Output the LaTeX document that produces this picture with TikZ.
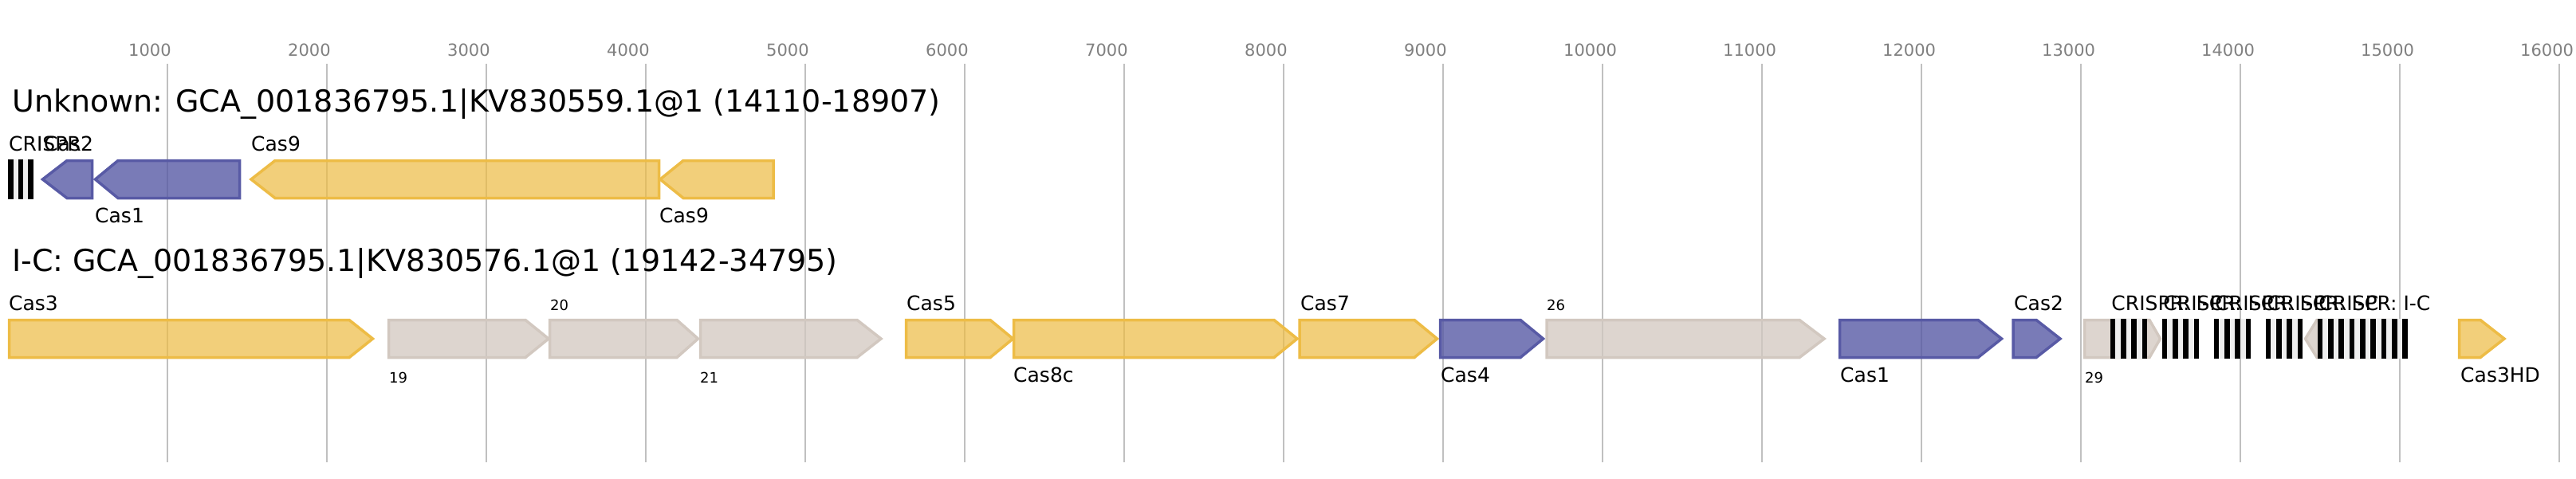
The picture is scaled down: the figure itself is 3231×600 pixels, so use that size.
\documentclass[tikz,border=0pt]{standalone}
\usepackage{fontspec}
\setmainfont{DejaVu Sans}
\usepackage{tikz}
\usetikzlibrary{positioning}
\usepackage{xcolor}

\definecolor{casyellow}{RGB}{237,188,70}
\definecolor{casblue}{RGB}{88,90,165}
\definecolor{casgray}{RGB}{210,200,192}
\definecolor{gridgray}{RGB}{192,192,192}
\definecolor{ticktext}{RGB}{128,128,128}
\definecolor{spacer}{RGB}{238,238,238}

\begin{document}
\begin{tikzpicture}[x=1pt,y=-1pt,
   yel/.style={draw=casyellow,fill=casyellow,fill opacity=0.72,line width=3.5pt},
   blu/.style={draw=casblue,fill=casblue,fill opacity=0.8,line width=3.5pt},
   oth/.style={draw=casgray,fill=casgray,fill opacity=0.76,line width=3.5pt},
   ttl/.style={anchor=base west,inner sep=0pt,font=\fontsize{38}{40}\selectfont},
   glab/.style={anchor=base west,inner sep=0pt,font=\fontsize{25}{28}\selectfont},
   nlab/.style={anchor=base west,inner sep=0pt,font=\fontsize{18}{20}\selectfont},
   tlab/.style={anchor=base west,inner sep=0pt,text=ticktext,font=\fontsize{21}{24}\selectfont}]
   \useasboundingbox (0,0) rectangle (3231,600);

   % scale: 1000 bp = 200
   \foreach \k in {1,...,16} {
     \draw[gridgray,line width=2pt] (10+200*\k,80) -- (10+200*\k,580);
     \node[tlab] (tick\k) at (10+200*\k-49,70) {\k000};
   }

   % Unknown
   \node[ttl] (title1) at (15,140) {Unknown: GCA\_001836795.1|KV830559.1@1 (14110-18907)};
   \fill[spacer] (10,200) rectangle (41.7,250);
   \foreach \x in {10,22.5,35} \fill (\x,200) rectangle ++(6.67,50);
   \draw[blu] (53.5,225) -- (84,201.5) -- (115.5,201.5) -- (115.5,248.5) -- (84,248.5) -- cycle;
   \draw[blu] (119.5,225) -- (148,201.5) -- (300.5,201.5) -- (300.5,248.5) -- (148,248.5) -- cycle;
   \draw[yel] (315,225) -- (345,201.5) -- (826.5,201.5) -- (826.5,248.5) -- (345,248.5) -- cycle;
   \draw[yel] (828,225) -- (857,201.5) -- (970,201.5) -- (970,248.5) -- (857,248.5) -- cycle;
   \node[glab] (crA) at (11,189) {CRISPR};
   \node[glab] (cas2A) at (55,189) {Cas2};
   \node[glab] (cas1A) at (119,279) {Cas1};
   \node[glab] (cas9A) at (315,189) {Cas9};
   \node[glab] (cas9B) at (827,279) {Cas9};

   % I-C
   \node[ttl] (title2) at (15,340) {I-C: GCA\_001836795.1|KV830576.1@1 (19142-34795)};
   \draw[yel] (11.5,401.5) -- (438,401.5) -- (467.5,425) -- (438,448.5) -- (11.5,448.5) -- cycle;
   \draw[oth] (487.5,401.5) -- (659,401.5) -- (688,425) -- (659,448.5) -- (487.5,448.5) -- cycle;
   \draw[oth] (689.5,401.5) -- (849,401.5) -- (875.5,425) -- (849,448.5) -- (689.5,448.5) -- cycle;
   \draw[oth] (878.5,401.5) -- (1075,401.5) -- (1105,425) -- (1075,448.5) -- (878.5,448.5) -- cycle;
   \draw[yel] (1136.5,401.5) -- (1242,401.5) -- (1270.5,425) -- (1242,448.5) -- (1136.5,448.5) -- cycle;
   \draw[yel] (1271.5,401.5) -- (1598,401.5) -- (1627,425) -- (1598,448.5) -- (1271.5,448.5) -- cycle;
   \draw[yel] (1630,401.5) -- (1774,401.5) -- (1802.5,425) -- (1774,448.5) -- (1630,448.5) -- cycle;
   \draw[blu] (1806.5,401.5) -- (1907,401.5) -- (1935.5,425) -- (1907,448.5) -- (1806.5,448.5) -- cycle;
   \draw[oth] (1940,401.5) -- (2257,401.5) -- (2288,425) -- (2257,448.5) -- (1940,448.5) -- cycle;
   \draw[blu] (2307.5,401.5) -- (2481,401.5) -- (2510.5,425) -- (2481,448.5) -- (2307.5,448.5) -- cycle;
   \draw[blu] (2525,401.5) -- (2554,401.5) -- (2584,425) -- (2554,448.5) -- (2525,448.5) -- cycle;
   \draw[oth] (2614.5,401.5) -- (2696,401.5) -- (2709.5,425) -- (2696,448.5) -- (2614.5,448.5) -- cycle;
   \draw[oth] (2891.5,425) -- (2906,401.5) -- (3000,401.5) -- (3000,448.5) -- (2906,448.5) -- cycle;
   \draw[yel] (3084.5,401.5) -- (3111,401.5) -- (3141,425) -- (3111,448.5) -- (3084.5,448.5) -- cycle;

   % arrays
   \foreach \s/\n [count=\c] in {2646.7/3,2711.7/3,2776.7/3,2841.7/3,2906.7/8} {
     \fill[spacer] (\s,400) rectangle (\s+13.333*\n+6.667,450);
     \foreach \i in {0,...,\n} \fill (\s+13.333*\i,400) rectangle ++(6.667,50);
     \node[glab] (cr\c) at (\s+1.5,389) {CRISPR: I-C};
   }

   \node[glab] (cas3) at (11,389) {Cas3};
   \node[nlab] (g19) at (488,480) {19};
   \node[nlab] (g20) at (690,389) {20};
   \node[nlab] (g21) at (878,480) {21};
   \node[glab] (cas5) at (1137,389) {Cas5};
   \node[glab] (cas8c) at (1271,479) {Cas8c};
   \node[glab] (cas7) at (1631,389) {Cas7};
   \node[glab] (cas4) at (1807,479) {Cas4};
   \node[nlab] (g26) at (1940,389) {26};
   \node[glab] (cas1) at (2308,479) {Cas1};
   \node[glab] (cas2) at (2526,389) {Cas2};
   \node[nlab] (g29) at (2615,480) {29};
   \node[glab] (cas3hd) at (3086,479) {Cas3HD};
\end{tikzpicture}
\end{document}
